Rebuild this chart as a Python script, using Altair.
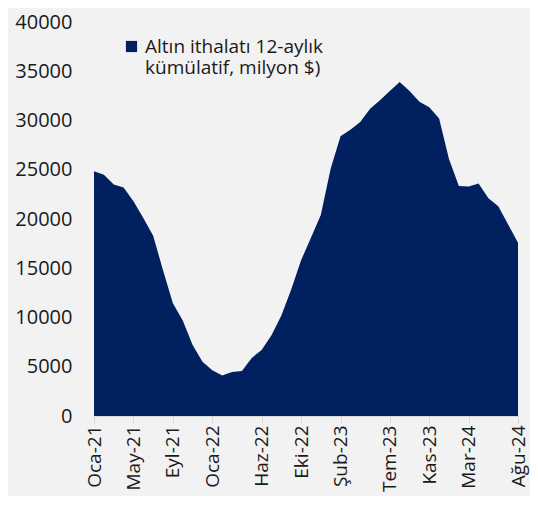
import altair as alt
import pandas as pd

months_tr = ["Oca", "Şub", "Mar", "Nis", "May", "Haz", "Tem", "Ağu", "Eyl", "Eki", "Kas", "Ara"]
periods = [f"{months_tr[m]}-{y}" for y in (21, 22, 23, 24) for m in range(12)][:44]

values = [24850, 24500, 23500, 23200, 21800, 20100, 18300, 14800, 11450, 9700,
          7200, 5500, 4650, 4100, 4470, 4570, 5900, 6700, 8200, 10200,
          12850, 15800, 18100, 20400, 25100, 28400, 29050, 29850, 31200, 32050,
          33000, 33900, 33000, 31900, 31350, 30200, 26100, 23350, 23300, 23600,
          22100, 21300, 19450, 17600]

tick_idx = [0, 4, 8, 12, 17, 21, 25, 30, 34, 38, 43]
series_name = "Altın ithalatı 12-aylık|kümülatif, milyon $)"

df = pd.DataFrame({"i": list(range(len(values))), "period": periods, "value": values,
                   "series": series_name})

label_arr = "[" + ",".join(f"'{p}'" for p in periods) + "]"
FONT = "Open Sans"
TXT = "#1a1a1a"

chart = alt.Chart(df).mark_area(color="#002060", interpolate="linear").encode(
    x=alt.X("i:Q", scale=alt.Scale(domain=[0, 43], nice=False, zero=False),
            axis=alt.Axis(values=tick_idx, labelExpr=f"{label_arr}[datum.value]",
                          labelAngle=-90, title=None, grid=False,
                          domainColor="#d9d9d9", tickColor="#d9d9d9", tickSize=7,
                          labelPadding=2, labelFontSize=19, labelColor=TXT,
                          labelFont=FONT)),
    y=alt.Y("value:Q", scale=alt.Scale(domain=[0, 40000], nice=False),
            axis=alt.Axis(values=list(range(0, 40001, 5000)), format="d", title=None,
                          grid=False, domain=False, ticks=False, labelPadding=22,
                          labelFontSize=20, labelColor=TXT, labelFont=FONT)),
    color=alt.Color("series:N", scale=alt.Scale(range=["#002060"]),
                    legend=alt.Legend(title=None, orient="none", legendX=28, legendY=15,
                                      symbolType="square", symbolSize=125,
                                      symbolStrokeWidth=0, symbolOpacity=1,
                                      labelExpr="split(datum.label, '|')",
                                      labelFontSize=19, labelFont=FONT,
                                      labelColor=TXT, labelLimit=400,
                                      labelOffset=4)),
).properties(
    width=424, height=394,
    autosize=alt.AutoSizeParams(type="none"),
    padding={"left": 86, "top": 14, "right": 12, "bottom": 80},
    background="#f2f2f2",
).configure_view(stroke=None)

chart.save("out.html", embed_options={"renderer": "svg", "actions": False})
